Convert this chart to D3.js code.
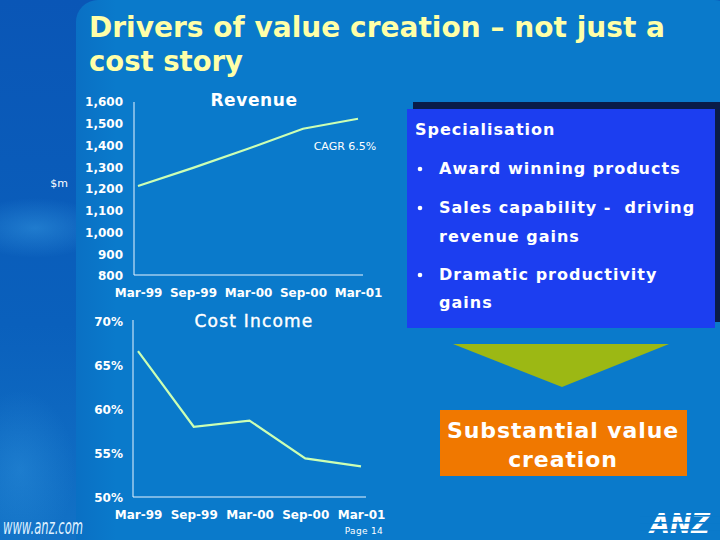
<!DOCTYPE html>
<html>
<head>
<meta charset="utf-8">
<script src="https://cdn.jsdelivr.net/npm/d3@7"></script>
<style>
  html, body { margin: 0; padding: 0; background: #0a7acb; }
  svg { display: block; }
  text { font-family: "DejaVu Sans", Verdana, sans-serif; }
</style>
</head>
<body>
<svg id="chart" width="720" height="540"></svg>
<script>
// ---- Data ----
const periods = ["Mar-99", "Sep-99", "Mar-00", "Sep-00", "Mar-01"];
const revenue = [1214, 1297, 1385, 1477, 1523];
const costIncome = [66.7, 58.1, 58.8, 54.5, 53.6];
const revenueTicks = [800, 900, 1000, 1100, 1200, 1300, 1400, 1500, 1600];
const costTicks = [50, 55, 60, 65, 70];
const titleLines = ["Drivers of value creation \u2013 not just a", "cost story"];
const boxHeading = "Specialisation";
const bulletLines = [
  {bullet: true, text: "Award winning products"},
  {bullet: true, text: "Sales capability -  driving"},
  {bullet: false, text: "revenue gains"},
  {bullet: true, text: "Dramatic productivity"},
  {bullet: false, text: "gains"}
];
const resultLines = ["Substantial value", "creation"];

const svg = d3.select("#chart");

// ---- Background ----
const defs = svg.append("defs");
const bg = defs.append("linearGradient").attr("id", "bgGrad").attr("x1", 0).attr("x2", 0).attr("y1", 0).attr("y2", 1);
bg.append("stop").attr("offset", "0%").attr("stop-color", "#0a56b6");
bg.append("stop").attr("offset", "60%").attr("stop-color", "#0a60bc");
bg.append("stop").attr("offset", "100%").attr("stop-color", "#1272c6");
svg.append("rect").attr("width", 720).attr("height", 540).attr("fill", "url(#bgGrad)");
const glow = defs.append("radialGradient").attr("id", "glow");
glow.append("stop").attr("offset", "0%").attr("stop-color", "#3aa0e6").attr("stop-opacity", 0.45);
glow.append("stop").attr("offset", "100%").attr("stop-color", "#3aa0e6").attr("stop-opacity", 0);
svg.append("ellipse").attr("cx", 35).attr("cy", 228).attr("rx", 70).attr("ry", 30).attr("fill", "url(#glow)");
svg.append("ellipse").attr("cx", 20).attr("cy", 470).attr("rx", 55).attr("ry", 80).attr("fill", "url(#glow)").attr("opacity", 0.7);
const panel = defs.append("linearGradient").attr("id", "panelGrad").attr("x1", 0).attr("x2", 1).attr("y1", 0).attr("y2", 0);
panel.append("stop").attr("offset", "0%").attr("stop-color", "#0a70c4");
panel.append("stop").attr("offset", "6%").attr("stop-color", "#0a7acb");
panel.append("stop").attr("offset", "100%").attr("stop-color", "#0a7acb");
svg.append("rect").attr("x", 76).attr("y", 0).attr("width", 660).attr("height", 560).attr("rx", 22).attr("fill", "url(#panelGrad)");

// ---- Title ----
svg.append("g").selectAll("text").data(titleLines).join("text")
  .attr("x", 89).attr("y", (d, i) => 37 + i * 34)
  .attr("fill", "#ffffa8").attr("font-size", 28).attr("font-weight", "bold")
  .attr("textLength", (d, i) => i === 0 ? 576 : 154).attr("lengthAdjust", "spacingAndGlyphs")
  .text(d => d);

const lineColor = "#ccffb4";
const axisColor = "#e8f4ff";
const tickFont = g => g.selectAll("text").attr("fill", "#fff").attr("font-size", 12).attr("font-weight", "bold")
  .attr("font-family", "DejaVu Sans, Verdana, sans-serif");

// ---- Revenue chart ----
const xRev = d3.scalePoint().domain(periods).range([138, 358]);
const yRev = d3.scaleLinear().domain([800, 1600]).range([276, 102]);
const gRev = svg.append("g");
gRev.append("g").attr("transform", "translate(134,0)")
  .call(d3.axisLeft(yRev).tickValues(revenueTicks).tickSize(0).tickPadding(11).tickFormat(d3.format(",")))
  .call(g => g.select(".domain").remove()).call(tickFont);
gRev.append("g").attr("transform", "translate(0,275)")
  .call(d3.axisBottom(xRev).tickSize(0).tickPadding(13))
  .call(g => g.select(".domain").remove()).call(tickFont);
gRev.append("line").attr("x1", 134).attr("x2", 134).attr("y1", yRev(1600)).attr("y2", 275).attr("stroke", axisColor).attr("stroke-width", 1);
gRev.append("line").attr("x1", 134).attr("x2", 363).attr("y1", 275).attr("y2", 275).attr("stroke", axisColor).attr("stroke-width", 1);
gRev.append("path").datum(revenue)
  .attr("d", d3.line().x((d, i) => xRev(periods[i])).y(d => yRev(d)))
  .attr("fill", "none").attr("stroke", lineColor).attr("stroke-width", 2.2);
gRev.append("text").attr("x", 254).attr("y", 106).attr("text-anchor", "middle")
  .attr("fill", "#fff").attr("font-size", 17).attr("font-weight", "bold").attr("letter-spacing", 0.6).text("Revenue");
gRev.append("text").attr("x", 345).attr("y", 150).attr("text-anchor", "middle")
  .attr("fill", "#fff").attr("font-size", 11).text("CAGR 6.5%");
svg.append("text").attr("x", 59).attr("y", 187).attr("text-anchor", "middle")
  .attr("fill", "#fff").attr("font-size", 11).text("$m");

// ---- Cost Income chart ----
const xCost = d3.scalePoint().domain(periods).range([138, 361]);
const yCost = d3.scaleLinear().domain([50, 70]).range([498, 322]);
const gCost = svg.append("g");
gCost.append("g").attr("transform", "translate(133,0)")
  .call(d3.axisLeft(yCost).tickValues(costTicks).tickSize(0).tickPadding(10).tickFormat(d => d + "%"))
  .call(g => g.select(".domain").remove()).call(tickFont);
gCost.append("g").attr("transform", "translate(0,497)")
  .call(d3.axisBottom(xCost).tickSize(0).tickPadding(13))
  .call(g => g.select(".domain").remove()).call(tickFont);
gCost.append("line").attr("x1", 133).attr("x2", 133).attr("y1", 320).attr("y2", 497).attr("stroke", axisColor).attr("stroke-width", 1);
gCost.append("line").attr("x1", 133).attr("x2", 366).attr("y1", 497).attr("y2", 497).attr("stroke", axisColor).attr("stroke-width", 1);
gCost.append("path").datum(costIncome)
  .attr("d", d3.line().x((d, i) => xCost(periods[i])).y(d => yCost(d)))
  .attr("fill", "none").attr("stroke", lineColor).attr("stroke-width", 2.2);
gCost.append("text").attr("x", 254).attr("y", 327).attr("text-anchor", "middle")
  .attr("fill", "#fff").attr("font-size", 17).attr("letter-spacing", 1.2)
  .attr("stroke", "#fff").attr("stroke-width", 0.4).text("Cost Income");
svg.append("text").attr("x", 383).attr("y", 534).attr("text-anchor", "end")
  .attr("fill", "#fff").attr("font-size", 9).attr("letter-spacing", 0.3).text("Page 14");

// ---- Specialisation box ----
svg.append("rect").attr("x", 413).attr("y", 102).attr("width", 307).attr("height", 220).attr("fill", "#0a1c48");
svg.append("rect").attr("x", 407).attr("y", 109).attr("width", 308).attr("height", 219).attr("fill", "#1c3ef0");
svg.append("text").attr("x", 415).attr("y", 135).attr("fill", "#fff").attr("font-size", 16)
  .attr("font-weight", "bold").attr("letter-spacing", 1.0).text(boxHeading);
const lineYs = [174, 213, 242, 280, 308];
const bl2 = svg.append("g");
bulletLines.forEach((d, i) => {
  if (d.bullet) {
    bl2.append("circle").attr("cx", 420).attr("cy", lineYs[i] - 5).attr("r", 2.3).attr("fill", "#fff");
  }
  bl2.append("text").attr("x", 439).attr("y", lineYs[i]).attr("fill", "#fff").attr("font-size", 16)
    .attr("font-weight", "bold").attr("letter-spacing", 1.0).attr("xml:space", "preserve")
    .style("white-space", "pre").text(d.text);
});

// ---- Arrow triangle ----
svg.append("path").attr("d", "M453,344 L669,344 L562,387 Z").attr("fill", "#9cb814");

// ---- Result box ----
svg.append("rect").attr("x", 440).attr("y", 410).attr("width", 247).attr("height", 66).attr("fill", "#f07800");
svg.append("g").selectAll("text").data(resultLines).join("text")
  .attr("x", 563).attr("y", (d, i) => 438 + i * 29).attr("text-anchor", "middle")
  .attr("fill", "#fff").attr("font-size", 22).attr("font-weight", "bold").attr("letter-spacing", 0.9).text(d => d);

// ---- Footer ----
svg.append("text").attr("x", 3).attr("y", 534).attr("fill", "#dff0ff").attr("font-size", 21)
  .attr("font-family", "DejaVu Sans Condensed, DejaVu Sans, sans-serif").attr("font-style", "italic")
  .attr("textLength", 80).attr("lengthAdjust", "spacingAndGlyphs").text("www.anz.com");
const logo = svg.append("g");
logo.append("text").attr("x", 650).attr("y", 533).attr("fill", "#fff").attr("font-size", 27)
  .attr("font-weight", "bold").attr("font-style", "italic")
  .attr("textLength", 60).attr("lengthAdjust", "spacingAndGlyphs").text("ANZ");
[515, 522, 529].forEach(y => {
  logo.append("rect").attr("x", 640).attr("y", y).attr("width", 80).attr("height", 1.6).attr("fill", "#0a7acb");
});
</script>
</body>
</html>
